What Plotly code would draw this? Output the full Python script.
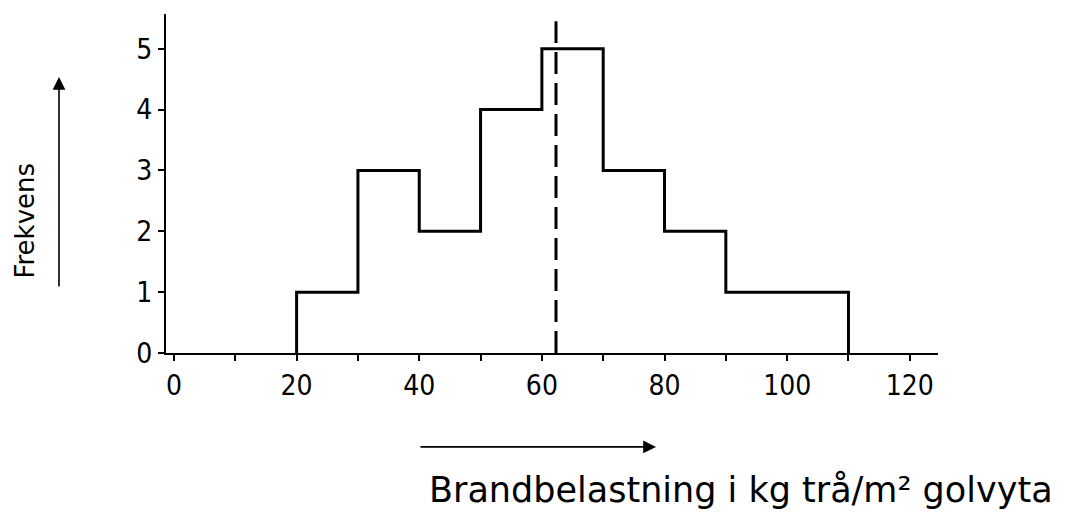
import plotly.graph_objects as go

# Data
bin_edges = [20, 30, 40, 50, 60, 70, 80, 90, 110]
frequencies = [1, 3, 2, 4, 5, 3, 2, 1]
mean_value = 62.3
mean_line_top = 5.45
x_tick_values = [0, 20, 40, 60, 80, 100, 120]
y_tick_values = [0, 1, 2, 3, 4, 5]
x_title = "Brandbelastning i kg trå/m² golvyta"
y_title = "Frekvens"

# Step outline of histogram
step_x = [bin_edges[0]] + bin_edges + [bin_edges[-1]]
step_y = [0] + frequencies + [frequencies[-1], 0]

tick_font = "DejaVu Sans Condensed, DejaVu Sans, sans-serif"
text_font = "DejaVu Sans, sans-serif"

fig = go.Figure()
fig.add_trace(go.Scatter(
    x=step_x, y=step_y, mode="lines", line_shape="hv",
    line=dict(color="black", width=3), showlegend=False, hoverinfo="skip"))
fig.add_trace(go.Scatter(
    x=[mean_value, mean_value], y=[0, mean_line_top], mode="lines",
    line=dict(color="black", width=3, dash="22px,9px"),
    showlegend=False, hoverinfo="skip"))

fig.update_xaxes(
    range=[-1.3, 124.6], showgrid=False, zeroline=False,
    showline=True, linecolor="black", linewidth=2,
    tickvals=x_tick_values, ticks="outside", ticklen=6, tickwidth=1.5,
    tickcolor="black", automargin=False,
    minor=dict(dtick=10, ticks="outside", ticklen=6, tickwidth=1.5, tickcolor="black"),
    tickfont=dict(family=tick_font, size=28, color="black"),
    ticklabelstandoff=0)
fig.update_yaxes(
    range=[0, 5.57], showgrid=False, zeroline=False,
    showline=True, linecolor="black", linewidth=2,
    tickvals=y_tick_values, ticks="outside", ticklen=6, tickwidth=1.5,
    tickcolor="black", automargin=False,
    tickfont=dict(family=tick_font, size=28, color="black"),
    ticklabelstandoff=0)

fig.add_annotation(
    text=x_title, xref="paper", yref="paper", x=0.745, y=-0.404,
    xanchor="center", yanchor="middle",
    showarrow=False, font=dict(family=text_font, size=35, color="black"))
fig.add_annotation(
    text=y_title, xref="paper", yref="paper", x=-0.182, y=0.392,
    xanchor="center", yanchor="middle",
    textangle=-90, showarrow=False,
    font=dict(family=text_font, size=26, color="black"))
# direction arrows
fig.add_annotation(
    text="", xref="paper", yref="paper", x=-0.1386, y=0.814,
    ax=0, ay=211, showarrow=True, arrowhead=2, arrowsize=1.6,
    arrowwidth=1.6, arrowcolor="black")
fig.add_annotation(
    text="", xref="paper", yref="paper", x=0.6347, y=-0.277,
    ax=-237, ay=0, showarrow=True, arrowhead=2, arrowsize=1.6,
    arrowwidth=1.6, arrowcolor="black")

fig.update_layout(
    width=1072, height=519,
    margin=dict(l=158, r=142, t=6, b=174),
    plot_bgcolor="white", paper_bgcolor="white",
    font=dict(family=text_font, color="black"))

fig.write_html("out.html")
